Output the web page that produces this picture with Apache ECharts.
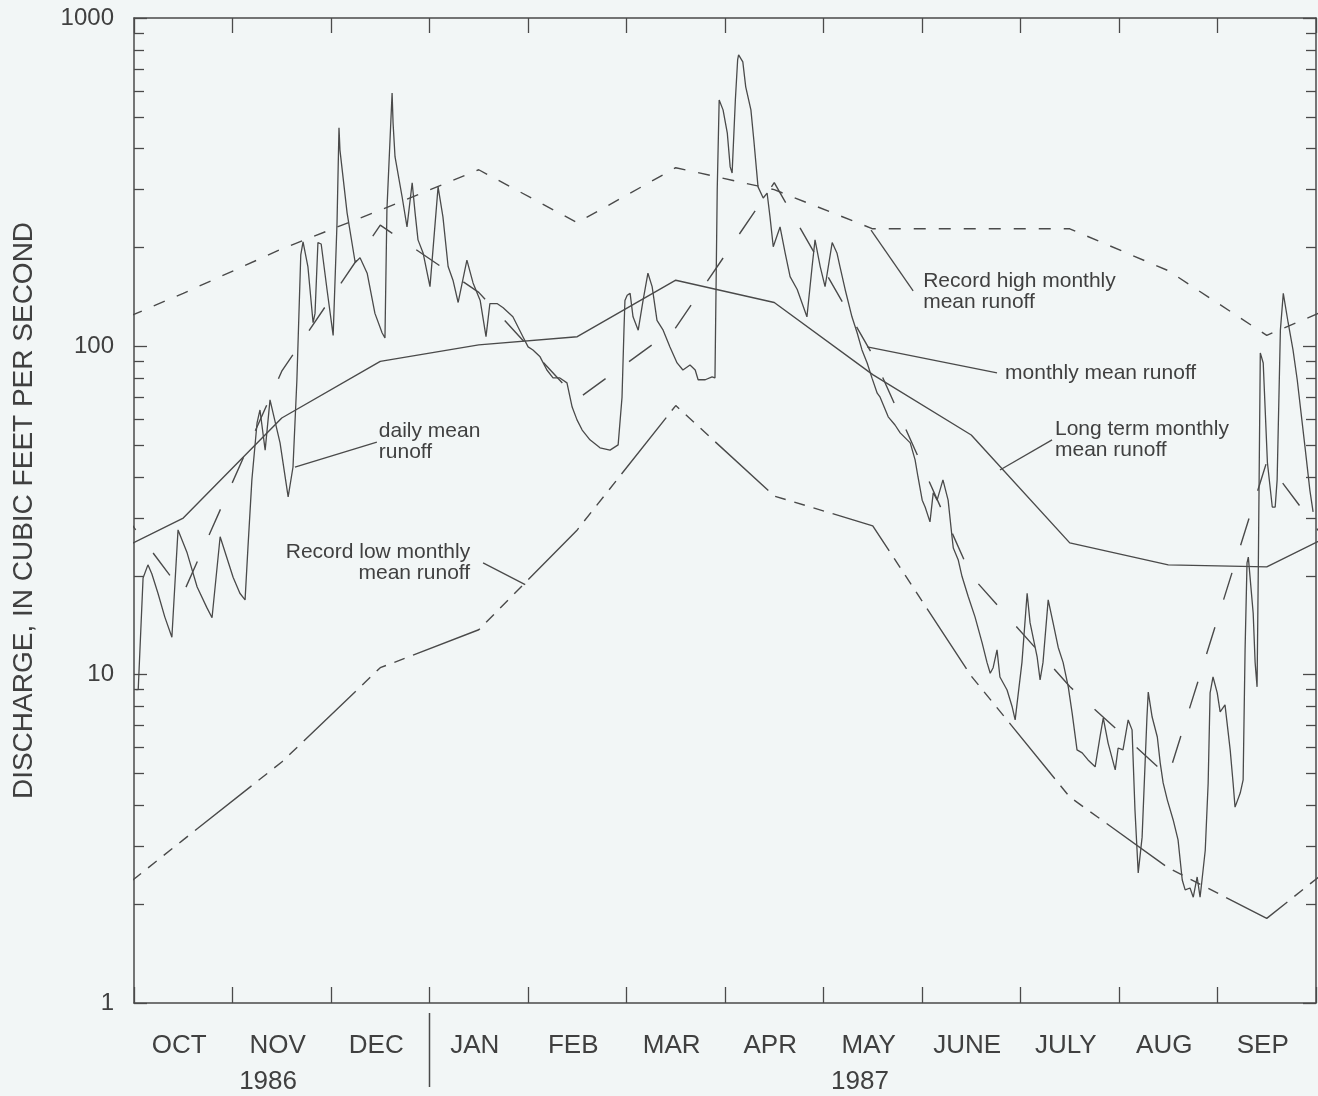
<!DOCTYPE html>
<html>
<head>
<meta charset="utf-8">
<script src="https://cdn.jsdelivr.net/npm/echarts@6/dist/echarts.min.js"></script>
<style>
  html, body { margin: 0; padding: 0; background: #f2f6f6; }
  #chart { width: 1318px; height: 1096px; }
</style>
</head>
<body>
<div id="chart"></div>
<script>
// Water year Oct 1986 - Sep 1987, discharge in cubic feet per second.
const months = ['OCT', 'NOV', 'DEC', 'JAN', 'FEB', 'MAR', 'APR', 'MAY', 'JUNE', 'JULY', 'AUG', 'SEP'];
const years = ['1986', '1987'];
const yTickValues = [1, 10, 100, 1000];
const yMinorValues = [2, 3, 4, 5, 6, 7, 8, 9, 20, 30, 40, 50, 60, 70, 80, 90, 200, 300, 400, 500, 600, 700, 800, 900];

// Monthly values, OCT..SEP
const monthlyMean  = [30, 60.5, 90, 101, 107, 159, 136, 82, 53.7, 25.2, 21.6, 21.3];
const longTermMean = [17.7, 84, 234, 146, 69, 114, 315, 94, 20, 9.2, 4.9, 44.5];
const recordHigh   = [145, 198, 260, 345, 238, 350, 300, 228, 228, 228, 170, 108];
const recordLow    = [3.14, 5.42, 10.5, 13.7, 27.6, 66, 35, 28.4, 9.9, 4.24, 2.58, 1.81];

// Daily mean runoff: day of water year (0 = Oct 1) and discharge
const dailyDay = [
  0.5, 1.3, 2.8, 4.3, 5.5, 7.4, 9.5, 11.7, 12.7, 13.6, 16.4, 19.5, 22.5, 24.1, 26.6, 30.6,
  32.7, 34.3, 35.2, 36.4, 38.0, 38.9, 40.5, 42.0, 45.1, 47.6, 49.1, 50.3, 51.5, 52.2, 53.7,
  55.3, 55.9, 56.8, 57.8, 59.6, 61.5, 62.7, 63.3, 63.6, 65.8, 68.3, 69.8, 72.0, 74.4, 76.6,
  77.5, 78.1, 79.7, 80.0, 80.6, 82.8, 84.3, 85.9, 86.8, 87.7, 89.3, 91.4, 93.9, 95.4, 97.0,
  98.5, 100.1, 102.8, 104.7, 106.9, 108.7, 109.9, 112.1, 114.0, 117.0, 120.1, 121.7, 123.2,
  125.4, 127.5, 129.4, 131.5, 133.7, 135.3, 136.8, 138.4, 140.8, 143.9, 147.0, 149.5, 150.7,
  151.3, 151.6, 152.3, 153.2, 154.1, 155.7, 157.2, 158.7, 160.0, 161.5, 163.4, 165.5, 167.7,
  169.5, 171.7, 173.3, 174.2, 176.4, 178.5, 179.4, 180.1, 180.7, 181.9, 183.2, 184.1, 184.7,
  185.7, 186.4, 186.7, 188.0, 188.9, 190.5, 191.4, 192.7, 194.3, 195.5, 196.4, 197.4, 199.5,
  201.1, 202.6, 204.8, 207.8, 209.4, 210.3, 211.9, 213.4, 215.6, 217.1, 218.0, 219.6, 221.7,
  223.3, 224.8, 226.4, 227.9, 229.5, 230.4, 232.9, 235.0, 236.6, 239.7, 241.2, 242.1, 243.4,
  244.3, 245.8, 246.8, 248.0, 249.8, 251.4, 252.6, 253.0, 254.5, 255.7, 257.6, 259.7, 261.9,
  263.4, 264.4, 265.3, 266.5, 267.4, 269.6, 271.2, 272.1, 274.2, 275.8, 276.7, 278.9, 279.8,
  280.7, 282.3, 283.8, 285.4, 286.9, 288.5, 289.7, 291.2, 292.8, 294.6, 296.8, 298.3, 299.3,
  300.8, 303.0, 303.9, 305.4, 307.0, 308.2, 309.1, 310.1, 311.3, 312.8, 313.2, 314.4, 316.0,
  316.9, 317.8, 319.1, 320.9, 322.4, 323.7, 324.6, 326.1, 327.1, 328.3, 329.2, 329.8, 330.8,
  331.7, 332.3, 333.2, 334.5, 335.4, 336.9, 338.5, 339.4, 340.0, 341.6, 342.5, 343.1, 343.7,
  344.1, 345.6, 346.2, 346.8, 347.2, 347.8, 348.7, 350.0, 351.5, 352.4, 353.0, 354.0, 354.9,
  356.4, 357.9, 359.2, 361.6, 363.1, 364.1
];
const dailyFlow = [
  9.0, 9.0, 19.7, 21.6, 20.3, 17.7, 15.0, 13.0, 19.4, 27.6, 23.5, 18.5, 16.0, 14.9, 26.3, 19.8,
  17.7, 16.9, 24.5, 39.2, 58.5, 64.0, 48.3, 68.7, 50.8, 34.8, 42.9, 79, 190, 208, 175,
  118, 126, 207, 205, 149, 108, 239, 463, 396, 255, 180, 186, 167, 126, 110,
  106, 260, 591, 479, 378, 285, 231, 315, 255, 211, 192, 152, 306, 248, 175,
  159, 136, 183, 156, 138, 107, 135, 135, 131, 123, 107, 99.6, 97.5,
  92.9, 84.7, 80.1, 80.1, 77.4, 65.3, 59.7, 55.6, 51.9, 49.1, 48.3, 50.1, 70,
  112, 138, 143, 145, 123, 112, 138, 167, 152, 120, 112, 99.6, 89.0,
  84.7, 87.7, 84.7, 79.1, 79.1, 80.7, 80.1, 300, 563, 525, 447, 352, 337,
  563, 745, 772, 735, 617, 525, 425, 306, 283, 293, 248, 201, 231,
  192, 163, 149, 123, 175, 211, 175, 152, 207, 192, 175, 149, 123,
  110, 97.5, 89.0, 80, 72, 70, 61, 57.6, 54.5, 50.8, 45.1, 40.0, 34.0,
  32.4, 29.2, 35.8, 34.0, 39.2, 34.0, 26.3, 24.3, 22.4, 19.9, 17.3, 15.0, 12.5,
  10.9, 10.1, 10.5, 11.9, 9.84, 8.98, 7.97, 7.28, 10.9, 17.7, 14.4, 11.3, 9.64,
  10.9, 16.9, 14.4, 12.1, 10.9, 9.18, 7.64, 5.90, 5.78, 5.50, 5.24, 6.46, 7.38,
  6.19, 5.13, 5.98, 5.90, 7.28, 6.79, 3.87, 2.49, 3.20, 7.43, 8.85, 7.43, 6.46,
  5.38, 4.68, 4.15, 3.61, 3.14, 2.37, 2.21, 2.24, 2.10, 2.42, 2.10, 2.37, 2.92,
  4.68, 8.80, 9.84, 8.80, 7.70, 8.09, 5.90, 4.68, 3.95, 4.36, 4.78, 11.9, 21.9,
  22.8, 15.4, 10.9, 9.18, 21.9, 95.5, 89.0, 44.2, 32.4, 32.4, 39.2, 112, 145,
  118, 97.5, 79.1, 49.4, 36.5, 31.3
];

const DAYS = 365;
const MONTH = DAYS / 12;
const INK = '#4a4a4a';
const TEXT = '#404040';
const FONT = '"Liberation Sans", Arial, sans-serif';

// Monthly values sit at mid-month; the curves wrap around the year
// (previous SEP before OCT, next OCT after SEP) and are clipped at the frame.
function monthlySeries(values) {
  const pts = [[-0.5 * MONTH, values[11]]];
  values.forEach((v, i) => pts.push([(i + 0.5) * MONTH, v]));
  pts.push([12.5 * MONTH, values[0]]);
  return pts;
}

const dailyData = dailyDay.map((d, i) => [d, dailyFlow[i]]);

// Callouts: leader line from a point on a curve to the text, in data units
const callouts = [
  { lines: ['daily mean', 'runoff'], align: 'left', text: [75.6, 55.3], from: [49.7, 42.9], to: [75.0, 51.1] },
  { lines: ['Record low monthly', 'mean runoff'], align: 'right', text: [103.8, 23.6], from: [120.8, 18.8], to: [107.8, 21.9] },
  { lines: ['Record high monthly', 'mean runoff'], align: 'left', text: [243.7, 158], from: [227.6, 226], to: [240.6, 147.5] },
  { lines: ['monthly mean runoff'], align: 'left', text: [269.0, 83], from: [226.4, 99.6], to: [266.5, 83] },
  { lines: ['Long term monthly', 'mean runoff'], align: 'left', text: [284.4, 56], from: [267.4, 42.0], to: [283.5, 51.9] }
];

const chart = echarts.init(document.getElementById('chart'), null, { renderer: 'canvas' });

const frameLine = { show: true, lineStyle: { color: INK, width: 1.5 } };

function logAxis(position, withMajor) {
  return {
    type: 'log', logBase: 10, min: 1, max: 1000, position: position,
    axisLine: withMajor ? frameLine : { show: false },
    axisTick: withMajor
      ? { show: true, inside: true, length: 13, customValues: yTickValues, lineStyle: { color: INK, width: 1.3 } }
      : { show: true, inside: true, length: 10, customValues: yMinorValues, lineStyle: { color: INK, width: 1.3 } },
    axisLabel: { show: false },
    splitLine: { show: false },
    minorTick: { show: false },
    minorSplitLine: { show: false }
  };
}

const yLeft = logAxis('left', true);
yLeft.axisLabel = {
  show: true, customValues: yTickValues, color: TEXT, fontSize: 24, fontFamily: FONT, margin: 20,
  formatter: v => String(Math.round(v))
};
yLeft.name = 'DISCHARGE, IN CUBIC FEET PER SECOND';
yLeft.nameLocation = 'middle';
yLeft.nameRotate = 90;
yLeft.nameGap = 96;
yLeft.nameTextStyle = { color: TEXT, fontSize: 28, fontFamily: FONT };

function dayAxis(position, tickLen) {
  return {
    type: 'value', min: 0, max: DAYS, interval: MONTH, position: position,
    axisLine: frameLine,
    axisTick: { show: true, inside: true, length: tickLen, lineStyle: { color: INK, width: 1.3 } },
    axisLabel: { show: false },
    splitLine: { show: false }
  };
}

function lineSeries(name, data, type, width) {
  return {
    name: name, type: 'line', data: data, xAxisIndex: 0, yAxisIndex: 0,
    showSymbol: false, symbol: 'none', clip: true, smooth: false,
    lineStyle: { color: INK, width: width, type: type, cap: 'butt' },
    emphasis: { disabled: true }, silent: true, z: 3
  };
}

chart.setOption({
  animation: false,
  backgroundColor: '#f2f6f6',
  grid: { left: 134, right: 2, top: 18, bottom: 93, containLabel: false },
  xAxis: [
    dayAxis('bottom', 16),
    dayAxis('top', 15),
    {
      type: 'category', data: months, position: 'bottom', boundaryGap: true,
      axisLine: { show: false }, axisTick: { show: false }, splitLine: { show: false },
      axisLabel: { show: true, interval: 0, color: TEXT, fontSize: 26, fontFamily: FONT, margin: 30, padding: [0, 8, 0, 0] }
    }
  ],
  yAxis: [yLeft, logAxis('left', false), logAxis('right', true), logAxis('right', false)],
  series: [
    lineSeries('Record high monthly mean runoff', monthlySeries(recordHigh), [12, 13], 1.4),
    lineSeries('Record low monthly mean runoff', monthlySeries(recordLow), [72, 9, 11, 9, 11, 9, 11, 9], 1.4),
    lineSeries('Long term monthly mean runoff', monthlySeries(longTermMean), [28, 29], 1.4),
    lineSeries('monthly mean runoff', monthlySeries(monthlyMean), 'solid', 1.4),
    lineSeries('daily mean runoff', dailyData, 'solid', 1.3)
  ]
});

// Annotations, year labels and the calendar-year divider
function px(pt) { return chart.convertToPixel({ xAxisIndex: 0, yAxisIndex: 0 }, pt); }

const graphics = [];
const LINE_H = 21;
callouts.forEach(c => {
  const a = px(c.from), b = px(c.to), t = px(c.text);
  graphics.push({
    type: 'line', silent: true, z: 10,
    shape: { x1: a[0], y1: a[1], x2: b[0], y2: b[1] },
    style: { stroke: INK, lineWidth: 1.3 }
  });
  c.lines.forEach((txt, i) => {
    graphics.push({
      type: 'text', silent: true, z: 10, x: t[0], y: t[1] + i * LINE_H,
      style: { text: txt, fill: TEXT, font: '21px ' + FONT, textAlign: c.align, textVerticalAlign: 'middle' }
    });
  });
});

const axisY = px([0, 1])[1];
const divX = px([3 * MONTH, 1])[0];
graphics.push({
  type: 'line', silent: true,
  shape: { x1: divX, y1: axisY + 10, x2: divX, y2: axisY + 84 },
  style: { stroke: INK, lineWidth: 1.5 }
});
const yearCenters = [41.4, 224.2];
years.forEach((yr, i) => {
  const x = px([yearCenters[i], 1])[0];
  graphics.push({
    type: 'text', silent: true, x: x, y: axisY + 79,
    style: { text: yr, fill: TEXT, font: '26px ' + FONT, textAlign: 'center', textVerticalAlign: 'middle' }
  });
});

chart.setOption({ graphic: graphics });
</script>
</body>
</html>
